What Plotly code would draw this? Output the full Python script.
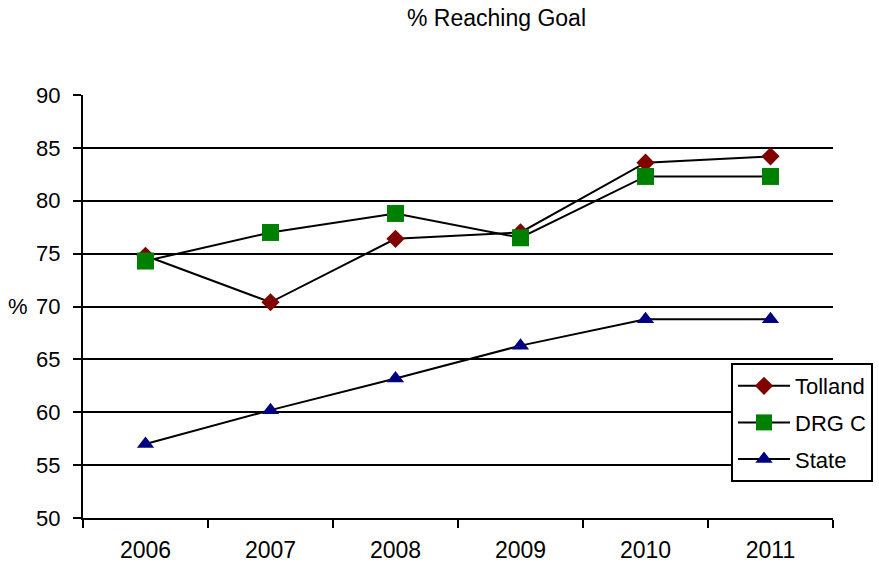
import plotly.graph_objects as go

years = ["2006", "2007", "2008", "2009", "2010", "2011"]
tolland = [74.8, 70.4, 76.4, 77.0, 83.6, 84.2]
drgc = [74.3, 77.0, 78.8, 76.5, 82.3, 82.3]
state = [57.0, 60.2, 63.2, 66.3, 68.8, 68.8]

FONT = "Liberation Sans, Arial, sans-serif"

# plot area in pixels: x 83..833, y 95..518
L, R, T, B = 83, 833, 95, 518
W, H = 879, 564

fig = go.Figure()
fig.add_trace(go.Scatter(x=years, y=tolland, name="Tolland", mode="lines+markers",
                         legendgroup="a",
                         line=dict(color="black", width=2),
                         marker=dict(symbol="diamond", size=14, color="#800000")))
fig.add_trace(go.Scatter(x=years, y=drgc, name="DRG C", mode="lines+markers",
                         legendgroup="b",
                         line=dict(color="black", width=2),
                         marker=dict(symbol="square", size=17, color="#008000")))
fig.add_trace(go.Scatter(x=years, y=state, name="State", mode="lines+markers",
                         legendgroup="c",
                         line=dict(color="black", width=2),
                         marker=dict(symbol="triangle-up", size=15, color="#000080")))

fig.update_layout(
    width=W, height=H,
    margin=dict(l=L, r=W - R, t=T, b=H - B, autoexpand=False),
    paper_bgcolor="white", plot_bgcolor="white",
    font=dict(family=FONT, size=22, color="black"),
    showlegend=True,
    legend=dict(x=(731 - L) / (R - L), y=(B - 363) / (B - T),
                xanchor="left", yanchor="top",
                bordercolor="black", borderwidth=2, bgcolor="white",
                font=dict(size=22), tracegroupgap=5, itemwidth=52),
    annotations=[
        dict(text="% Reaching Goal", x=(496 - L) / (R - L), y=1 + (T - 18) / (B - T),
             xref="paper", yref="paper", xanchor="center", yanchor="middle",
             showarrow=False, font=dict(size=23)),
        dict(text="%", x=(18 - L) / (R - L), y=70, xref="paper", yref="y",
             xanchor="center", showarrow=False, font=dict(size=22)),
    ],
)

fig.update_xaxes(type="category", range=[-0.5, 5.5], showline=True, linecolor="black",
                 linewidth=2, ticks="outside", tickson="boundaries", ticklen=8,
                 tickwidth=2, tickcolor="black", showgrid=False, automargin=False,
                 ticklabelstandoff=10, tickfont=dict(size=23))
fig.update_yaxes(range=[50, 90], dtick=5, showline=True, linecolor="black", linewidth=2,
                 ticks="outside", ticklen=8, tickwidth=2, tickcolor="black",
                 showgrid=True, gridcolor="black", gridwidth=2, zeroline=False,
                 automargin=False, ticklabelstandoff=8, tickfont=dict(size=22))

fig.write_html("out.html")
